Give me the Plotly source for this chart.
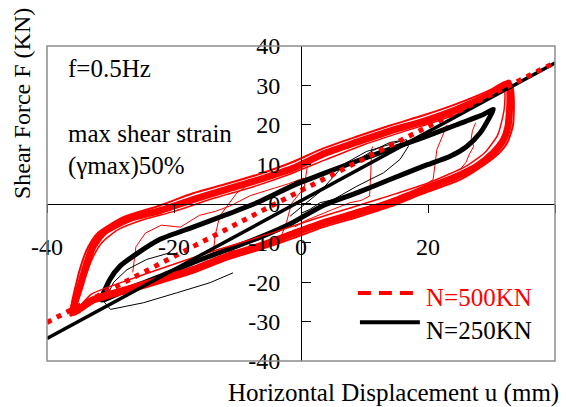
import plotly.graph_objects as go

FONT = "Liberation Serif, DejaVu Serif, serif"

# ---------------- data ----------------
# N=500KN, main hysteresis loop (thick band of many cycles)
red_loop_x = [-35.9, -34.8, -33.7, -32.7, -31.1, -27.4, -22.2, -17.0, -11.7, -6.5, -1.2, 3.5, 8.8, 14.0, 19.3, 24.5,
              29.8, 31.9, 32.7, 32.9, 32.6, 31.9, 30.3, 27.7, 24.5, 19.3, 14.0, 8.8, 3.5, -1.2, -6.5, -11.7, -17.0,
              -22.2, -27.4, -32.7, -35.9]
red_loop_y = [-27.7, -21.0, -15.0, -10.8, -7.4, -4.1, -1.8, 1.0, 3.6, 6.1, 9.0, 12.6, 15.6, 18.4, 20.9, 23.9,
              27.7, 29.8, 30.6, 26.4, 19.6, 16.2, 12.9, 9.5, 6.9, 3.6, 0.2, -2.4, -4.9, -7.6, -10.8, -13.4, -16.8,
              -19.3, -21.8, -24.4, -27.7]
# N=500KN, outer cycle of the band
red_outer_x = [-36.3, -35.5, -34.5, -33.5, -32.0, -28.0, -22.2, -17.0, -11.7, -6.5, -1.2, 3.5, 8.8, 14.0, 19.3,
               24.5, 30.0, 32.0, 33.2, 33.5, 33.4, 32.5, 31.0, 29.0, 25.0, 19.3, 14.0, 8.8, 3.5, -1.2, -6.5, -11.7,
               -17.0, -22.2, -27.4, -32.7, -36.3]
red_outer_y = [-28.5, -21.0, -15.0, -11.0, -7.5, -3.5, -0.5, 2.6, 5.0, 7.5, 10.6, 14.0, 17.0, 19.8, 22.4,
               25.3, 29.0, 30.8, 30.2, 27.0, 20.0, 15.5, 12.5, 10.0, 6.0, 2.6, -0.8, -3.5, -6.0, -8.8, -11.7, -14.3,
               -17.6, -20.2, -22.7, -25.2, -28.5]
# N=500KN, inner cycle of the band
red_inner_x = [-35.5, -34.3, -33.0, -31.5, -29.0, -25.0, -20.0, -14.0, -8.0, -2.0, 4.0, 10.0, 16.0, 22.0, 27.0,
               30.5, 32.0, 32.0, 31.0, 29.0, 26.0, 20.0, 14.0, 8.0, 2.0, -4.0, -10.0, -16.0, -22.0, -28.0, -33.0, -35.5]
red_inner_y = [-27.0, -20.5, -14.5, -10.2, -6.8, -4.2, -2.0, 1.2, 4.0, 7.3, 11.2, 15.0, 18.2, 21.2, 24.4,
               28.0, 28.8, 24.0, 17.5, 13.0, 9.5, 5.2, 2.0, -1.0, -4.0, -7.2, -10.2, -13.2, -16.5, -19.9, -23.0, -27.0]
# N=250KN, main hysteresis loop
blk_loop_x = [-31.4, -30.1, -28.5, -25.9, -22.2, -17.0, -11.7, -6.5, -1.2, 3.5, 8.8, 14.0, 19.3, 24.5, 28.7, 30.3,
              29.8, 28.2, 26.1, 23.5, 19.3, 14.0, 8.8, 3.5, -1.5, -6.5, -11.7, -17.0, -22.2, -27.0, -31.4]
blk_loop_y = [-24.5, -19.3, -15.9, -12.8, -9.1, -6.0, -2.8, 0.5, 4.6, 7.6, 10.8, 13.8, 16.8, 20.0, 22.6, 23.9,
              22.2, 17.9, 14.5, 12.0, 9.5, 6.1, 2.7, -0.5, -5.0, -8.6, -11.8, -15.0, -18.5, -21.5, -24.5]
# early (thin) cycles
thin_red_a_x = [-26.5, -26.0, -24.5, -22.0, -19.0, -16.0, -13.5, -11.0, -8.0, -5.0, -2.0, 0.5]
thin_red_a_y = [-17.5, -11.0, -7.5, -5.5, -6.0, -3.0, -2.0, -0.5, 2.0, 3.5, 5.0, 6.5]
thin_red_b_x = [-7.0, -10.1, -12.8, -13.5, -13.8, -12.0, -9.1, -6.0, -3.3, -2.3, -1.5, 0.5, 1.0]
thin_red_b_y = [6.1, 2.7, -3.2, -8.0, -12.5, -12.3, -11.7, -10.5, -9.1, -4.9, 0.0, 4.0, 9.5]
thin_red_c_x = [11.3, 11.1, 11.0, 10.8, 9.5, 7.7, 5.0, 2.5, 0.5, -1.0]
thin_red_c_y = [14.5, 13.7, 8.0, 1.9, 0.8, 0.2, -1.5, -3.2, -4.5, -6.0]
thin_red_d_x = [23.0, 21.9, 21.4, 20.8, 18.2, 14.0, 12.9, 8.8, 7.7, 3.0]
thin_red_d_y = [20.0, 15.4, 13.7, 6.1, 3.1, 1.0, 0.2, -1.5, -2.4, -4.5]
thin_red_e_x = [27.5, 27.0, 26.8, 27.2, 26.5, 26.0, 25.0]
thin_red_e_y = [20.5, 18.5, 16.5, 14.5, 12.5, 10.5, 8.5]
thin_blk_a_x = [-1.7, 1.4, 3.0, 6.1, 8.0, 11.4, 14.0, 16.6, 16.9, 15.6, 13.0, 8.8, 5.1, 3.0, 1.4, 0.0]
thin_blk_a_y = [-3.2, 1.0, 3.0, 8.6, 10.2, 13.5, 15.5, 16.2, 14.5, 11.2, 7.8, 4.4, 1.0, 0.2, -1.5, -2.5]
thin_blk_b_x = [-1.0, 5.1, 10.3, 15.6]
thin_blk_b_y = [5.5, 8.5, 13.2, 15.8]
thin_blk_c_x = [-10.7, -14.3, -19.6, -24.8, -30.0, -31.0, -29.5, -27.4, -24.3, -20.6]
thin_blk_c_y = [-17.6, -20.1, -22.7, -25.2, -26.9, -25.0, -20.0, -16.8, -14.2, -12.5]
# straight reference lines
blk_line_x = [-40, 40]
blk_line_y = [-34.3, 35.7]
red_line_x = [-40, 0, 40]
red_line_y = [-30.2, 3.3, 35.8]

x_ticks = [-40, -20, 0, 20, 40]
x_tick_text = ["-40", "-20", "0", "20", "40"]
y_ticks = [-40, -30, -20, -10, 0, 10, 20, 30, 40]
y_tick_text = ["-40", "-30", "-20", "-10", "0", "10", "20", "30", "40"]

RED = "#FF0000"
BLACK = "#000000"

fig = go.Figure()


def add(x, y, color, width, dash=None, shape="linear"):
    fig.add_trace(go.Scatter(x=x, y=y, mode="lines", hoverinfo="skip", showlegend=False,
                             line=dict(color=color, width=width, dash=dash, shape=shape, smoothing=0.6)))


for xs, ys in [(thin_red_a_x, thin_red_a_y), (thin_red_b_x, thin_red_b_y), (thin_red_c_x, thin_red_c_y),
               (thin_red_d_x, thin_red_d_y), (thin_red_e_x, thin_red_e_y)]:
    add(xs, ys, RED, 1)
for xs, ys in [(thin_blk_a_x, thin_blk_a_y), (thin_blk_b_x, thin_blk_b_y), (thin_blk_c_x, thin_blk_c_y)]:
    add(xs, ys, BLACK, 1)
add(blk_loop_x, blk_loop_y, BLACK, 5, shape="spline")
add(red_outer_x, red_outer_y, RED, 2, shape="spline")
add(red_inner_x, red_inner_y, RED, 1.5, shape="spline")
add(red_loop_x, red_loop_y, RED, 7, shape="spline")
add(blk_line_x, blk_line_y, BLACK, 3.5)
add(red_line_x, red_line_y, RED, 5, "5px,6px")

axis_font = dict(family=FONT, size=24, color="black")

fig.update_layout(
    width=566, height=407,
    margin=dict(l=47, r=11, t=46, b=46),
    paper_bgcolor="white", plot_bgcolor="white",
    showlegend=False,
    font=dict(family=FONT),
    xaxis=dict(range=[-40, 40], anchor="free", position=0.5, showline=True, linecolor="black", linewidth=1,
               ticks="outside", ticklen=8, tickcolor="black", tickvals=x_ticks, ticktext=x_tick_text,
               tickfont=axis_font, showgrid=False, zeroline=False, ticklabelstandoff=14, fixedrange=True),
    yaxis=dict(range=[-40, 40], anchor="free", position=0.5, showline=True, linecolor="black", linewidth=1,
               ticks="inside", ticklen=9, tickcolor="black", tickvals=y_ticks, ticktext=y_tick_text,
               tickfont=axis_font, showgrid=False, zeroline=False, ticklabelstandoff=16, fixedrange=True),
    shapes=[
        dict(type="rect", xref="paper", yref="paper", x0=0, x1=1, y0=0, y1=1,
             line=dict(color="#8c8c8c", width=1.5)),
        dict(type="line", xref="paper", yref="paper", x0=0.612, x1=0.734, y0=0.216, y1=0.216,
             line=dict(color=RED, width=4, dash="13px,8px")),
        dict(type="line", xref="paper", yref="paper", x0=0.616, x1=0.734, y0=0.123, y1=0.123,
             line=dict(color=BLACK, width=4)),
    ],
    annotations=[
        dict(text="Shear Force F (KN)", xref="paper", yref="paper", x=-0.049, y=0.816, textangle=-90,
             showarrow=False, xanchor="center", yanchor="middle", font=dict(family=FONT, size=24, color="black")),
        dict(text="Horizontal Displacement u (mm)", xref="paper", yref="paper", x=0.683, y=-0.102,
             showarrow=False, xanchor="center", yanchor="middle", font=dict(family=FONT, size=25, color="black")),
        dict(text="f=0.5Hz", xref="paper", yref="paper", x=0.038, y=0.930, showarrow=False,
             xanchor="left", yanchor="middle", font=dict(family=FONT, size=25, color="black")),
        dict(text="max shear strain", xref="paper", yref="paper", x=0.038, y=0.721, showarrow=False,
             xanchor="left", yanchor="middle", font=dict(family=FONT, size=25, color="black")),
        dict(text="(γmax)50%", xref="paper", yref="paper", x=0.038, y=0.619, showarrow=False,
             xanchor="left", yanchor="middle", font=dict(family=FONT, size=25, color="black")),
        dict(text="N=500KN", xref="paper", yref="paper", x=0.742, y=0.203, showarrow=False,
             xanchor="left", yanchor="middle", font=dict(family=FONT, size=25, color=RED)),
        dict(text="N=250KN", xref="paper", yref="paper", x=0.742, y=0.098, showarrow=False,
             xanchor="left", yanchor="middle", font=dict(family=FONT, size=25, color="black")),
    ],
)

fig.write_html("out.html")
